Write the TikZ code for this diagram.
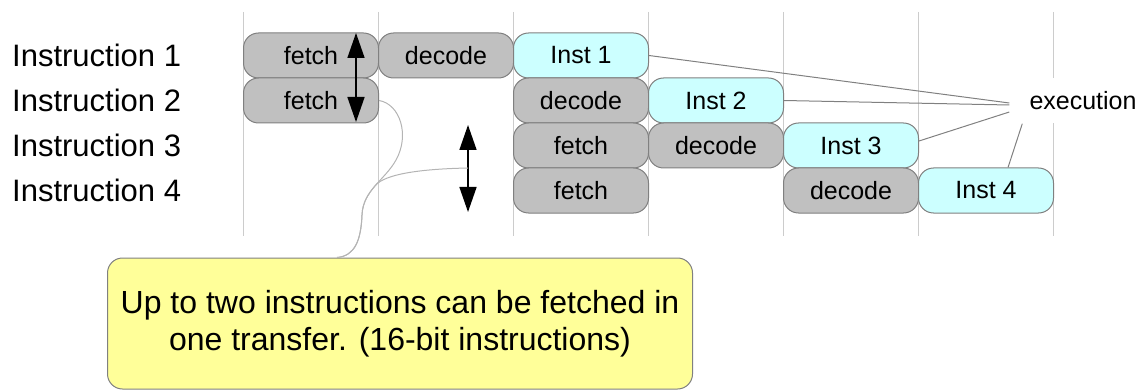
\documentclass[tikz,border=0pt]{standalone}
\usepackage{fontspec}
\setmainfont{Liberation Sans}
\usetikzlibrary{arrows.meta,calc}
\definecolor{gridgray}{HTML}{CCCCCC}
\definecolor{boxgray}{HTML}{C0C0C0}
\definecolor{edgegray}{HTML}{808080}
\definecolor{instcyan}{HTML}{CCFFFF}
\definecolor{noteyellow}{HTML}{FFFF99}
\definecolor{wiregray}{HTML}{B4B4B4}
\begin{document}
\begin{tikzpicture}[x=1pt,y=-1pt,
  stage/.style={draw=edgegray, line width=1pt, rounded corners=15pt,
    minimum width=135pt, minimum height=45pt, inner sep=0pt,
    font=\fontsize{25}{30}\selectfont},
  busy/.style={stage, fill=boxgray},
  exe/.style={stage, fill=instcyan},
  rowlabel/.style={anchor=west, inner sep=0pt, font=\fontsize{31}{37}\selectfont},
  gridline/.style={draw=gridgray, line width=1.5pt},
  tie/.style={draw=edgegray, line width=1pt},
  wire/.style={draw=wiregray, line width=1pt},
  xfer/.style={line width=1.5pt,
    {Triangle[width=17pt,length=25pt]}-{Triangle[width=17pt,length=25pt]}},
]
\useasboundingbox (0,0) rectangle (1145,390);

% cycle boundaries
\foreach \i in {0,...,6}
  \draw[gridline] ({243.5+135*\i},12) -- ({243.5+135*\i},236);

% row labels
\node[rowlabel] (l1) at (12,55.5)  {Instruction 1};
\node[rowlabel] (l2) at (12,100.5) {Instruction 2};
\node[rowlabel] (l3) at (12,145.5) {Instruction 3};
\node[rowlabel] (l4) at (12,190.5) {Instruction 4};

% pipeline stages
\node[busy] (f1) at (311,55.5) {fetch};
\node[busy] (d1) at (446,55.5) {decode};
\node[exe]  (i1) at (581,55.5) {Inst 1};

\node[busy] (f2) at (311,100.5) {fetch};
\node[busy] (d2) at (581,100.5) {decode};
\node[exe]  (i2) at (716,100.5) {Inst 2};

\node[busy] (f3) at (581,145.5) {fetch};
\node[busy] (d3) at (716,145.5) {decode};
\node[exe]  (i3) at (851,145.5) {Inst 3};

\node[busy] (f4) at (581,190.5) {fetch};
\node[busy] (d4) at (851,190.5) {decode};
\node[exe]  (i4) at (986,190.5) {Inst 4};

% execution label and its leaders
\node[fill=white, inner xsep=20pt, inner ysep=0pt, minimum height=45pt,
  font=\fontsize{25}{30}\selectfont] (exec) at (1083,101) {execution};
\draw[tie] (i1.east) -- ($(exec.west)+(0,2)$);
\draw[tie] (i2.east) -- ($(exec.west)+(0,4)$);
\draw[tie] ($(i3.east)+(0,-4.5)$) -- ($(exec.west)+(0,11)$);
\draw[tie] ($(i4.north)+(22,0)$) -- ($(exec.south west)+(13,0)$);

% double fetch transfers
\coordinate (a1t) at (356,33);
\coordinate (a1b) at (356,122);
\draw[xfer] (a1t) -- (a1b);
\coordinate (a2t) at (468,125);
\coordinate (a2b) at (468,212);
\coordinate (a2m) at (468,168);
\draw[xfer] (a2t) -- (a2b);

% note
\node[draw=edgegray, fill=noteyellow, rounded corners=15pt, line width=1pt,
  minimum width=585pt, minimum height=131pt, align=center,
  font=\fontsize{32}{37}\selectfont] (note) at (400,323.5)
  {Up to two instructions can be fetched in\\ one transfer. (16-bit instructions)};
\coordinate (nt) at ($(note.north west)+(230,0)$);

\draw[wire] (f2.east) .. controls (400,104) and (410,135) .. (396,160)
  .. controls (385,180) and (363,190) .. (362,215)
  .. controls (361,240) and (355,256) .. (nt);
\draw[wire] (a2m) .. controls (420,169) and (385,174) .. (375.25,185.6)
  .. controls (368.25,193.75) and (362.5,202.5) .. (362,215)
  .. controls (361,240) and (355,256) .. (nt);
\end{tikzpicture}
\end{document}
